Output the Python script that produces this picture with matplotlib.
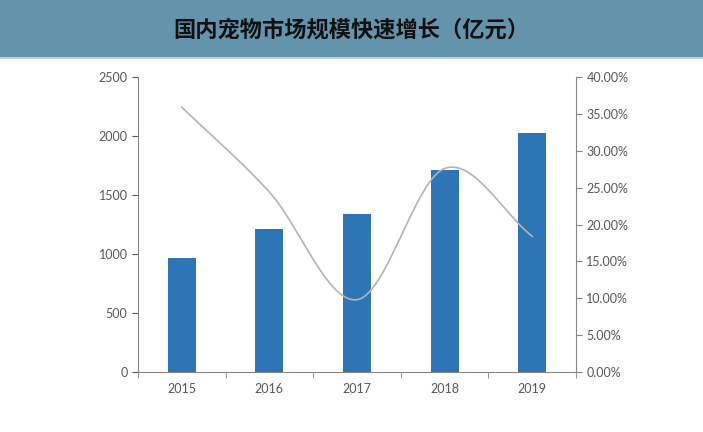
import numpy as np
import matplotlib
matplotlib.use("Agg")
import matplotlib.pyplot as plt
from matplotlib.ticker import FuncFormatter

years = ["2015", "2016", "2017", "2018", "2019"]
market_size = [970, 1215, 1336, 1709, 2026]
growth_rate = [0.359, 0.244, 0.098, 0.276, 0.184]

title = "国内宠物市场规模快速增长（亿元）"

plt.rcParams['font.family'] = ['Lato', 'DejaVu Sans']


def catmull_rom(xs, ys, n=40):
    # smooth line through the points, like excel's smoothed line
    xs = np.asarray(xs, float)
    ys = np.asarray(ys, float)
    px = np.concatenate([[2 * xs[0] - xs[1]], xs, [2 * xs[-1] - xs[-2]]])
    py = np.concatenate([[2 * ys[0] - ys[1]], ys, [2 * ys[-1] - ys[-2]]])
    out_x, out_y = [], []
    for i in range(1, len(px) - 2):
        t = np.linspace(0, 1, n)
        for p, out in ((px, out_x), (py, out_y)):
            p0, p1, p2, p3 = p[i - 1], p[i], p[i + 1], p[i + 2]
            out.extend(0.5 * ((2 * p1) + (-p0 + p2) * t
                              + (2 * p0 - 5 * p1 + 4 * p2 - p3) * t ** 2
                              + (-p0 + 3 * p1 - 3 * p2 + p3) * t ** 3))
    return np.array(out_x), np.array(out_y)


fig = plt.figure(figsize=(7.03, 4.32), dpi=100)

# title band
band = fig.add_axes([0, 1 - 57 / 432, 1, 57 / 432])
band.set_facecolor("#6394ab")
band.set_xticks([])
band.set_yticks([])
for s in band.spines.values():
    s.set_visible(False)
band.text(0.5, 0.47, title, ha="center", va="center", fontsize=16,
          fontweight="bold", color="#111111",
          family=['Noto Sans CJK SC', 'DejaVu Sans'])
fig.add_artist(plt.Line2D([0, 1], [1 - 58 / 432, 1 - 58 / 432],
                          color="#b9d0dc", lw=1.5))

ax = fig.add_axes([138 / 703, 60 / 432, (576 - 138) / 703, (372 - 77) / 432])
x = np.arange(len(years))
ax.bar(x, market_size, width=0.32, color="#2e75b6", zorder=2)
ax.set_xlim(-0.5, len(years) - 0.5)
ax.set_ylim(0, 2500)
ax.set_yticks(range(0, 2501, 500))
ax.set_xticks(x)
ax.set_xticklabels(years)
ax.set_xticks(np.arange(-0.5, len(years)), minor=True)
ax.tick_params(axis="x", which="major", length=0, pad=8)
ax.tick_params(axis="x", which="minor", length=4, color="#868686")
ax.tick_params(axis="y", length=4, color="#868686")
ax.tick_params(colors="#595959", labelsize=9)

ax2 = ax.twinx()
lx, ly = catmull_rom(x, growth_rate)
ax2.plot(lx, ly, color="#b4b4b4", lw=1.2, zorder=3)
ax2.set_ylim(0, 0.40)
ax2.set_yticks(np.arange(0, 0.401, 0.05))
ax2.yaxis.set_major_formatter(FuncFormatter(lambda v, p: f"{v * 100:.2f}%"))
ax2.tick_params(axis="y", length=4, color="#868686", colors="#595959",
                labelsize=9)

for a in (ax, ax2):
    a.spines["top"].set_visible(False)
    for side in ("left", "right", "bottom"):
        a.spines[side].set_color("#868686")
ax.spines["right"].set_visible(False)
ax2.spines["left"].set_visible(False)
ax2.spines["bottom"].set_visible(False)

fig.savefig("out.png", dpi=100)
